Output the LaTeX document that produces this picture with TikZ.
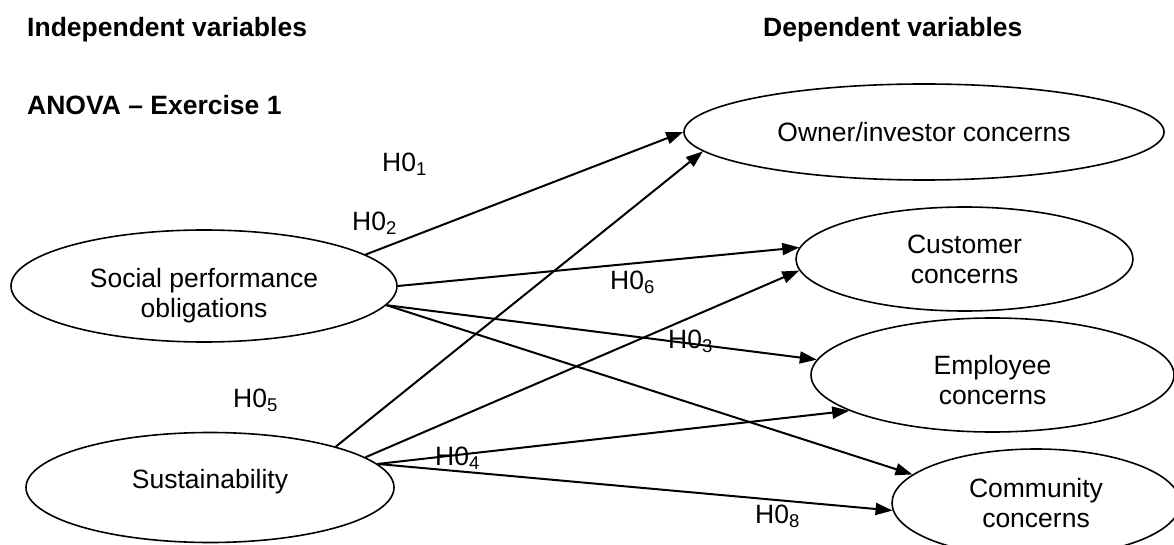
\documentclass[tikz,border=0pt]{standalone}
\usepackage{fontspec}
\setmainfont{Liberation Sans}
\usetikzlibrary{shapes.geometric,arrows.meta}
\newcommand\hyp[1]{H0\raisebox{-4pt}{\fontsize{18.5}{18.5}\selectfont #1}}
\tikzset{
  txt/.style={font=\fontsize{26.5}{30}\selectfont, inner sep=0pt},
  head/.style={txt, font=\fontsize{26.5}{30}\selectfont\bfseries, anchor=base west},
  hlabel/.style={txt, anchor=base west},
  ell/.style={draw, ellipse, line width=1.6pt, inner sep=0pt, align=center,
    font=\fontsize{26.5}{30}\selectfont},
  etext/.style={inner sep=0pt, align=center, font=\fontsize{26.5}{30}\selectfont},
  conn/.style={line width=2pt, -{Triangle[length=17pt,width=12pt]}}
}
\begin{document}
\begin{tikzpicture}[x=1pt,y=-1pt]
\useasboundingbox (0,0) rectangle (1174,545);
\begin{scope}
\clip (0,0) rectangle (1174,545);
% headings
\node[head] (hind) at (27,37) {Independent variables};
\node[head] (hdep) at (763,37) {Dependent variables};
\node[head] (hano) at (27,115) {ANOVA -- Exercise 1};
% independent variables
\node[ell, minimum width=386pt, minimum height=112pt,
  label={[etext, yshift=-10pt]center:{Social performance\\obligations}}] (soc) at (204,286) {};
\node[ell, minimum width=368pt, minimum height=110pt,
  label={[etext, yshift=6pt]center:{Sustainability}}] (sus) at (210,487.5) {};
% dependent variables
\node[ell, minimum width=480pt, minimum height=96pt] (own) at (924,132) {Owner/investor concerns};
\node[ell, minimum width=337pt, minimum height=104pt] (cus) at (964.5,259) {Customer\\concerns};
\node[ell, minimum width=363pt, minimum height=114pt,
  label={[etext, yshift=-5pt]center:{Employee\\concerns}}] (emp) at (992.5,375) {};
\node[ell, minimum width=288pt, minimum height=108pt] (com) at (1036,503) {Community\\concerns};
% connectors
\draw[conn] (soc.11) -- (own.180);
\draw[conn] (sus.18.5) -- (own.185);
\draw[conn] (soc.0) -- (cus.176);
\draw[conn] (sus.11) -- (cus.184.3);
\draw[conn] (soc.-6) -- (emp.175);
\draw[conn] (soc.-6) -- (com.167.7);
\draw[conn] (sus.8.2) -- (emp.194.2);
\draw[conn] (sus.8.2) -- (com.183.6);
% hypothesis labels
\node[hlabel] (h1) at (382,172) {\hyp{1}};
\node[hlabel] (h2) at (352,230) {\hyp{2}};
\node[hlabel] (h6) at (610,289) {\hyp{6}};
\node[hlabel] (h3) at (668,348) {\hyp{3}};
\node[hlabel] (h5) at (233,407) {\hyp{5}};
\node[hlabel] (h4) at (435,465) {\hyp{4}};
\node[hlabel] (h8) at (755,523) {\hyp{8}};
\end{scope}
\end{tikzpicture}
\end{document}
